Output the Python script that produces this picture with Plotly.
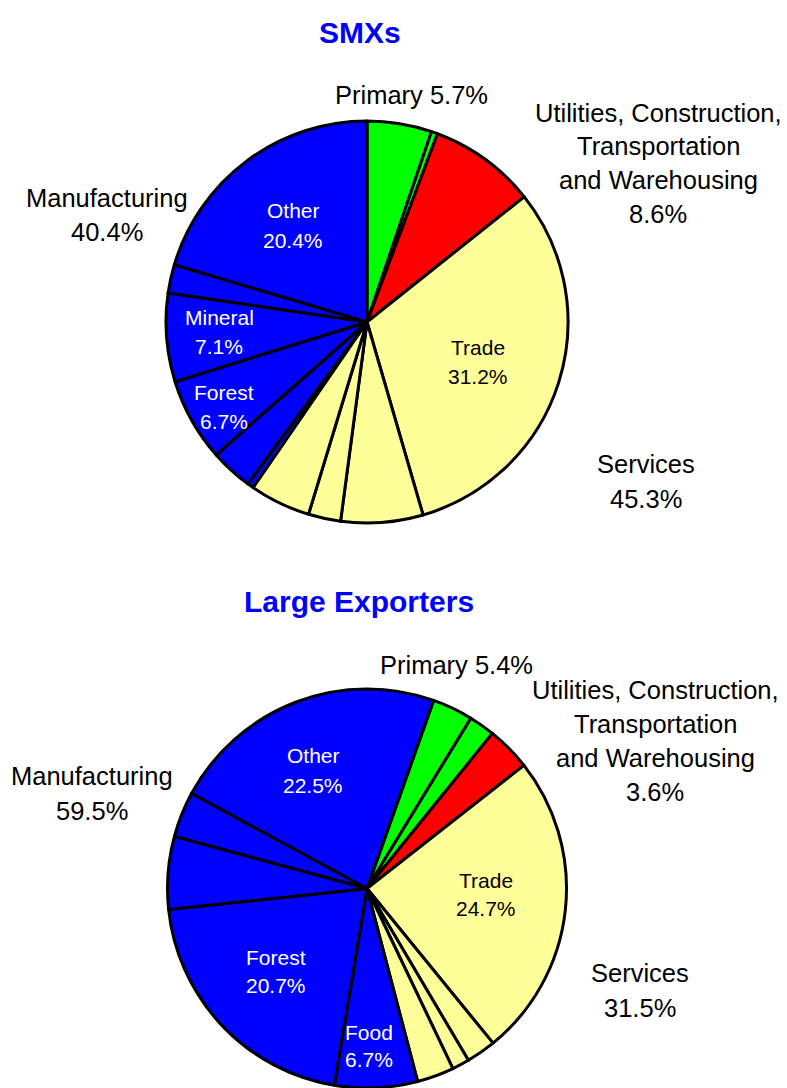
import plotly.graph_objects as go

W, H = 787, 1088

# ---------------- data ----------------
smx_slices = ["Primary A", "Primary B", "Utilities, Construction, Transportation and Warehousing",
              "Trade", "Services B", "Services C", "Services D",
              "Manufacturing A", "Manufacturing B", "Forest", "Mineral", "Manufacturing C", "Other"]
smx_values = [5.2, 0.5, 8.6, 31.2, 6.6, 2.6, 4.9, 0.5, 3.4, 6.7, 7.1, 2.3, 20.4]
smx_groups = ["Primary", "Primary", "Utilities", "Services", "Services", "Services", "Services",
              "Manufacturing", "Manufacturing", "Manufacturing", "Manufacturing", "Manufacturing", "Manufacturing"]

large_slices = ["Primary A", "Primary B", "Utilities, Construction, Transportation and Warehousing",
                "Trade", "Services B", "Services C", "Services D",
                "Food", "Forest", "Manufacturing B", "Manufacturing C", "Other"]
large_values = [3.3, 2.1, 3.6, 24.7, 2.4, 1.4, 3.0, 6.7, 20.7, 5.9, 3.7, 22.5]
large_groups = ["Primary", "Primary", "Utilities", "Services", "Services", "Services", "Services",
                "Manufacturing", "Manufacturing", "Manufacturing", "Manufacturing", "Manufacturing"]

titles = ["SMXs", "Large Exporters"]
smx_outer_labels = [["Primary 5.7%"],
                    ["Utilities, Construction,", "Transportation", "and Warehousing", "8.6%"],
                    ["Manufacturing", "40.4%"],
                    ["Services", "45.3%"]]
smx_inner_labels = [["Other", "20.4%"], ["Mineral", "7.1%"], ["Forest", "6.7%"], ["Trade", "31.2%"]]
large_outer_labels = [["Primary 5.4%"],
                      ["Utilities, Construction,", "Transportation", "and Warehousing", "3.6%"],
                      ["Manufacturing", "59.5%"],
                      ["Services", "31.5%"]]
large_inner_labels = [["Other", "22.5%"], ["Trade", "24.7%"], ["Forest", "20.7%"], ["Food", "6.7%"]]

# ---------------- styles / layout ----------------
group_colors = {"Primary": "#00FF00", "Utilities": "#FF0000",
                "Services": "#FFFF99", "Manufacturing": "#0000FF"}
FONT = "Liberation Sans, Arial, Helvetica, sans-serif"


def px_x(x):
    return x / W


def px_y(y):
    return 1 - y / H


fig = go.Figure()
fig.add_trace(go.Pie(
    labels=smx_slices, values=smx_values, sort=False, direction="clockwise", rotation=0,
    marker=dict(colors=[group_colors[g] for g in smx_groups], line=dict(color="black", width=3)),
    textinfo="none", showlegend=False,
    domain=dict(x=[px_x(166), px_x(568)], y=[px_y(523), px_y(121)]),
))
fig.add_trace(go.Pie(
    labels=large_slices, values=large_values, sort=False, direction="clockwise", rotation=19.5,
    marker=dict(colors=[group_colors[g] for g in large_groups], line=dict(color="black", width=3)),
    textinfo="none", showlegend=False,
    domain=dict(x=[px_x(167.5), px_x(566.5)], y=[0, px_y(689)]),
))

annotations = []


def add_block(lines, x, y0, dy, size, color="black", bold=False):
    for i, line in enumerate(lines):
        txt = f"<b>{line}</b>" if bold else line
        annotations.append(dict(
            text=txt, x=px_x(x), y=px_y(y0 + i * dy), xref="paper", yref="paper",
            xanchor="center", yanchor="middle", showarrow=False,
            font=dict(family=FONT, size=size, color=color),
        ))


OUT = 25.5
IN = 21

# top pie
add_block([titles[0]], 360, 32, 0, 30, "#0000FF", bold=True)
add_block(smx_outer_labels[0], 411.5, 94.5, 0, OUT)
add_block(smx_outer_labels[1], 658, 112.5, 33.8, OUT)
add_block(smx_outer_labels[2], 107, 198.5, 34, OUT)
add_block(smx_outer_labels[3], 645.5, 464, 35, OUT)
add_block(smx_inner_labels[0], 293, 210.5, 29.5, IN, "white")
add_block(smx_inner_labels[1], 219, 317.5, 28.5, IN, "white")
add_block(smx_inner_labels[2], 224, 392.5, 28.5, IN, "white")
add_block(smx_inner_labels[3], 478, 347.5, 28.5, IN, "black")

# bottom pie
add_block([titles[1]], 359, 601, 0, 30, "#0000FF", bold=True)
add_block(large_outer_labels[0], 456, 665, 0, OUT)
add_block(large_outer_labels[1], 655, 690, 34, OUT)
add_block(large_outer_labels[2], 92, 776, 35, OUT)
add_block(large_outer_labels[3], 640, 973, 34.5, OUT)
add_block(large_inner_labels[0], 313, 755, 30, IN, "white")
add_block(large_inner_labels[1], 486, 880, 28.5, IN, "black")
add_block(large_inner_labels[2], 276, 957, 28.5, IN, "white")
add_block(large_inner_labels[3], 369, 1032, 27, IN, "white")

fig.update_layout(
    width=W, height=H, autosize=False,
    margin=dict(l=0, r=0, t=0, b=0),
    paper_bgcolor="white", plot_bgcolor="white",
    annotations=annotations,
    font=dict(family=FONT),
)

fig.write_html(
    "out.html",
    config={"displayModeBar": False},
    post_script="document.body.style.margin='0px';document.body.style.overflow='hidden';",
)
